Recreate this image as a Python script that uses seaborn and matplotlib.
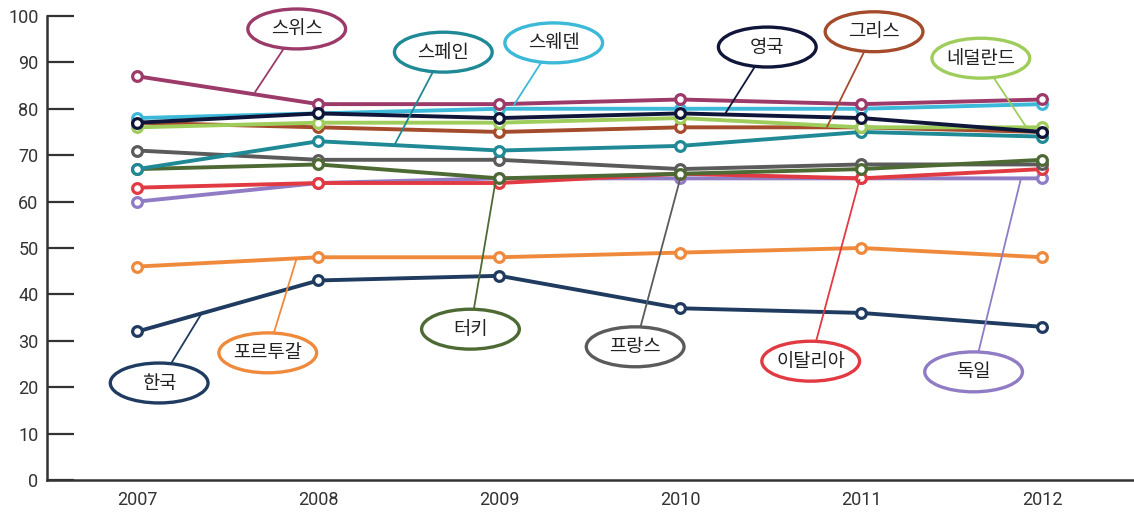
import matplotlib
matplotlib.use("Agg")
import matplotlib.pyplot as plt
from matplotlib.patches import Ellipse
import seaborn as sns
import pandas as pd

years = [2007, 2008, 2009, 2010, 2011, 2012]

# values, drawn in this order (last on top)
germany = [60, 64, 65, 65, 65, 65]
italy = [63, 64, 64, 66, 65, 67]
france = [71, 69, 69, 67, 68, 68]
turkey = [67, 68, 65, 66, 67, 69]
spain = [67, 73, 71, 72, 75, 74]
greece = [77, 76, 75, 76, 76, 75]
netherlands = [76, 77, 77, 78, 76, 76]
sweden = [78, 79, 80, 80, 80, 81]
swiss = [87, 81, 81, 82, 81, 82]
uk = [77, 79, 78, 79, 78, 75]
portugal = [46, 48, 48, 49, 50, 48]
korea = [32, 43, 44, 37, 36, 33]

names = ["독일", "이탈리아", "프랑스", "터키", "스페인", "그리스", "네덜란드",
         "스웨덴", "스위스", "영국", "포르투갈", "한국"]
series = [germany, italy, france, turkey, spain, greece, netherlands,
          sweden, swiss, uk, portugal, korea]

colors = {"독일": "#8f7cc4", "이탈리아": "#e23a42", "프랑스": "#5b5b5b",
          "터키": "#4e6a34", "스페인": "#1f8995", "그리스": "#a44b2b",
          "네덜란드": "#9fcd5c", "스웨덴": "#3cb9d8", "스위스": "#9c3a69",
          "영국": "#10153a", "포르투갈": "#ef8a3c", "한국": "#1f3b60"}

# label bubble centre and leader-line end, in data units (layout only)
labels = {
    "스위스": ((2007.88, 97.2), (2007.65, 83.6)),
    "스페인": ((2008.69, 92.2), (2008.42, 72.2)),
    "스웨덴": ((2009.30, 94.2), (2009.08, 80.8)),
    "영국": ((2010.48, 93.3), (2010.25, 79.1)),
    "그리스": ((2011.07, 96.6), (2010.81, 76.1)),
    "네덜란드": ((2011.66, 90.9), (2011.91, 76.1)),
    "한국": ((2007.12, 20.9), (2007.35, 35.6)),
    "포르투갈": ((2007.72, 27.4), (2007.88, 47.8)),
    "터키": ((2008.84, 32.5), (2008.98, 64.7)),
    "프랑스": ((2009.75, 28.7), (2010.00, 65.1)),
    "이탈리아": ((2010.72, 25.6), (2010.99, 64.7)),
    "독일": ((2011.62, 23.3), (2011.88, 64.7)),
}

sns.set_style("white")
plt.rcParams["font.family"] = ["Noto Sans CJK KR", "DejaVu Sans"]

fig, ax = plt.subplots(figsize=(11.34, 5.15), dpi=100)
fig.subplots_adjust(left=0.0414, right=0.999, bottom=0.068, top=0.969)

for name, vals in zip(names, series):
    df = pd.DataFrame({"year": years, "value": vals})
    c = colors[name]
    sns.lineplot(data=df, x="year", y="value", color=c, linewidth=2.8,
                 marker="o", markersize=7, markerfacecolor="white",
                 markeredgecolor=c, markeredgewidth=2.3, ax=ax, zorder=3)

for name, (centre, tip) in labels.items():
    c = colors[name]
    ax.plot([centre[0], tip[0]], [centre[1], tip[1]], color=c, lw=1.3,
            zorder=4, clip_on=False)
    ax.add_patch(Ellipse(centre, 0.54, 8.6, facecolor="white", edgecolor=c,
                         lw=2.4, zorder=5, clip_on=False))
    ax.text(centre[0], centre[1], name, ha="center", va="center",
            fontsize=13.5, color="#222222", zorder=6)

ax.set_xlim(2006.5, 2012.5)
ax.set_ylim(0, 100)
ax.set_xticks(years)
ax.set_yticks(range(0, 101, 10))
ax.set_xlabel("")
ax.set_ylabel("")

tick_font = ["Roboto", "DejaVu Sans"]
for lab in ax.get_xticklabels() + ax.get_yticklabels():
    lab.set_family(tick_font)
    lab.set_fontsize(13)
    lab.set_color("#333333")

ax.tick_params(axis="y", direction="in", length=19.5, width=1.6,
               color="#333333", pad=6, left=True)
ax.tick_params(axis="x", length=0, pad=8)

sns.despine(ax=ax)
for side in ["left", "bottom"]:
    ax.spines[side].set_color("#333333")
    ax.spines[side].set_linewidth(1.8)

fig.savefig("out.png", dpi=100)
